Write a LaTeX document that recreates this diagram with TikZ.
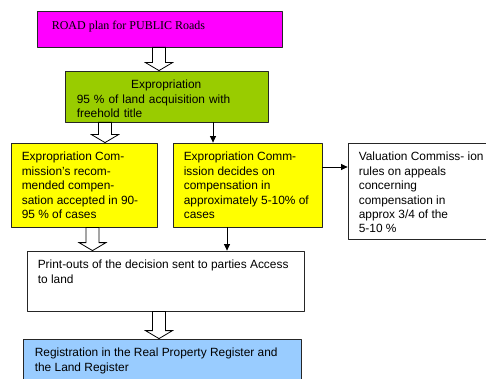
\documentclass[tikz,border=0pt]{standalone}
\usepackage{fontspec}
\setmainfont{Liberation Sans}
\newfontfamily\timesfont{Liberation Serif}
\usetikzlibrary{arrows.meta,calc}
\definecolor{roadpink}{HTML}{FF00FF}
\definecolor{expgreen}{HTML}{99CC00}
\definecolor{comyellow}{HTML}{FFFF00}
\definecolor{regblue}{HTML}{99CCFF}
% hollow block arrow pointing down, from #1 to #2
\newcommand{\hollowarrow}[2]{%
  \draw[fill=white, line width=0.8pt, line join=miter] let \p1=#1, \p2=#2 in
    (\x1-6.5pt,\y1) -- (\x1-6.5pt,\y2+8pt) -- (\x1-13.5pt,\y2+8pt) -- (\x1,\y2)
    -- (\x1+13.5pt,\y2+8pt) -- (\x1+6.5pt,\y2+8pt) -- (\x1+6.5pt,\y1) -- cycle;}
\begin{document}
\begin{tikzpicture}[x=1pt, y=-1pt, line join=round,
	>={Triangle[length=6.5pt,width=6pt]},
	box/.style={draw=black!85, line width=0.8pt, inner sep=0pt},
	txt/.style={anchor=north west, inner sep=0pt, align=left, font=\fontsize{11.9}{14.4}\selectfont}]
	\useasboundingbox (0,0) rectangle (486,379);
	% boxes
	\node[box, fill=roadpink, minimum width=245pt, minimum height=36pt] (road) at (159.5,29) {};
	\node[box, fill=expgreen, minimum width=203pt, minimum height=51pt] (expro) at (166.5,96.5) {};
	\node[box, fill=comyellow, minimum width=146pt, minimum height=84pt] (yel1) at (84,185) {};
	\node[box, fill=comyellow, minimum width=149pt, minimum height=84pt] (yel2) at (247.5,185) {};
	\node[box, fill=white, minimum width=152pt, minimum height=96pt] (val) at (424,191) {};
	\node[box, fill=white, minimum width=277pt, minimum height=60pt] (print) at (165.5,281) {};
	\node[box, fill=regblue, minimum width=278pt, minimum height=61pt] (reg) at (162,369.5) {};
	% texts
	\node[txt, font=\timesfont\fontsize{12}{14}\selectfont] (roadtxt) at ([shift={(15,8.5)}]road.north west) {\strut ROAD plan for PUBLIC Roads};
	\node[txt, text width=179pt] (exprotxt) at ([shift={(12,8)}]expro.north west) {\strut\makebox[\linewidth]{Expropriation}\\95 \% of land acquisition with\\freehold title};
	\node[txt] (yel1txt) at ([shift={(11,8)}]yel1.north west) {\strut Expropriation Com-\\mission's recom-\\mended compen-\\sation accepted in 90-\\95 \% of cases};
	\node[txt] (yel2txt) at ([shift={(11,8)}]yel2.north west) {\strut Expropriation Comm-\\ission decides on\\compensation in\\approximately 5-10\% of\\cases};
	\node[txt] (valtxt) at ([shift={(11,8)}]val.north west) {\strut Valuation Commiss- ion\\rules on appeals\\concerning\\compensation in\\approx 3/4 of the\\5-10 \%};
	\node[txt] (printtxt) at ([shift={(11,8)}]print.north west) {\strut Print-outs of the decision sent to parties Access\\to land};
	\node[txt] (regtxt) at ([shift={(12,8)}]reg.north west) {\strut Registration in the Real Property Register and\\the Land Register};
	% hollow arrows
	\coordinate (a1) at (159,0);
	\coordinate (a2) at (105,0);
	\coordinate (a3) at (92.5,0);
	\hollowarrow{(a1 |- road.south)}{(a1 |- expro.north)}
	\hollowarrow{(a2 |- expro.south)}{(a2 |- yel1.north)}
	\hollowarrow{(a3 |- yel1.south)}{(a3 |- print.north)}
	\hollowarrow{(a1 |- print.south)}{(a1 |- reg.north)}
	% black arrows
	\coordinate (b1) at (213,0);
	\coordinate (b2) at (0,167);
	\coordinate (b3) at (227,0);
	\draw[->, line width=0.8pt] (b1 |- expro.south) -- (b1 |- yel2.north);
	\draw[->, line width=0.8pt] (b2 -| yel2.east) -- (b2 -| val.west);
	\draw[->, line width=0.8pt] (b3 |- yel2.south) -- (b3 |- print.north);
\end{tikzpicture}
\end{document}
